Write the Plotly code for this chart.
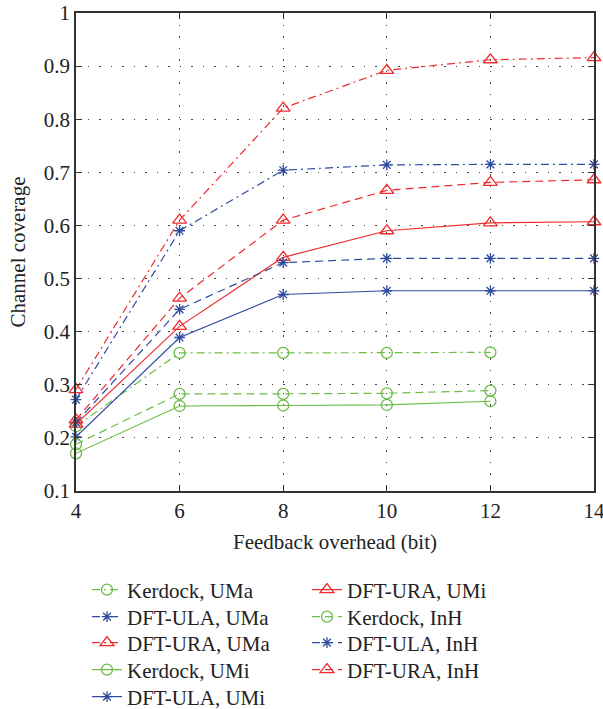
import plotly.graph_objects as go

x_full = [4, 6, 8, 10, 12, 14]
x_kerdock = [4, 6, 8, 10, 12]

kerdock_uma = [0.222, 0.360, 0.360, 0.360, 0.361]
dft_ula_uma = [0.272, 0.590, 0.704, 0.714, 0.715, 0.715]
dft_ura_uma = [0.291, 0.610, 0.821, 0.892, 0.912, 0.916]
kerdock_umi = [0.171, 0.260, 0.261, 0.262, 0.269]
dft_ula_umi = [0.202, 0.389, 0.470, 0.477, 0.477, 0.477]
dft_ura_umi = [0.226, 0.410, 0.540, 0.590, 0.605, 0.607]
kerdock_inh = [0.188, 0.283, 0.283, 0.284, 0.289]
dft_ula_inh = [0.229, 0.442, 0.530, 0.538, 0.538, 0.538]
dft_ura_inh = [0.234, 0.463, 0.610, 0.666, 0.681, 0.686]

x_ticks = [4, 6, 8, 10, 12, 14]
y_ticks = [0.1, 0.2, 0.3, 0.4, 0.5, 0.6, 0.7, 0.8, 0.9, 1]
y_tick_text = ["0.1", "0.2", "0.3", "0.4", "0.5", "0.6", "0.7", "0.8", "0.9", "1"]

RED = "#ef2b2d"
BLUE = "#2f4b9f"
GREEN = "#6cbd45"

series = [
    ("Kerdock, UMa", x_kerdock, kerdock_uma, GREEN, "dashdot", "circle-open"),
    ("DFT-ULA, UMa", x_full, dft_ula_uma, BLUE, "dashdot", "asterisk-open"),
    ("DFT-URA, UMa", x_full, dft_ura_uma, RED, "dashdot", "triangle-up-open"),
    ("Kerdock, UMi", x_kerdock, kerdock_umi, GREEN, "solid", "circle-open"),
    ("DFT-ULA, UMi", x_full, dft_ula_umi, BLUE, "solid", "asterisk-open"),
    ("DFT-URA, UMi", x_full, dft_ura_umi, RED, "solid", "triangle-up-open"),
    ("Kerdock, InH", x_kerdock, kerdock_inh, GREEN, "dash", "circle-open"),
    ("DFT-ULA, InH", x_full, dft_ula_inh, BLUE, "dash", "asterisk-open"),
    ("DFT-URA, InH", x_full, dft_ura_inh, RED, "dash", "triangle-up-open"),
]

dash_map = {"dashdot": "8px,4px,2px,4px", "dash": "8px,5px", "solid": "solid"}
size_map = {"circle-open": 11, "asterisk-open": 9, "triangle-up-open": 12}

fig = go.Figure()
for i, (name, xs, ys, col, dash, sym) in enumerate(series):
    leg = "legend" if i == 0 else f"legend{i + 1}"
    fig.add_trace(go.Scatter(
        x=xs, y=ys, name=name, mode="lines+markers",
        line=dict(color=col, width=1.2, dash=dash_map[dash]),
        marker=dict(symbol=sym, size=size_map[sym], color=col,
                    line=dict(color=col, width=1.3)),
        legend=leg, cliponaxis=False,
    ))

FONT = "Liberation Serif"
FS = 21
axis_common = dict(
    showline=True, linecolor="#333333", linewidth=1.5, mirror="ticks",
    ticks="inside", ticklen=6, tickcolor="#333333",
    showgrid=True, gridcolor="#444444", gridwidth=1, griddash="1.5px,10px",
    zeroline=False, automargin=False, ticklabeloverflow="allow",
    tickfont=dict(family=FONT, size=FS, color="#222222"),
)

fig.update_xaxes(range=[4, 14], tickvals=x_ticks, ticktext=[str(v) for v in x_ticks],
                 title=dict(text="Feedback overhead (bit)", font=dict(family=FONT, size=FS, color="#222222"), standoff=12),
                 **axis_common)
fig.update_yaxes(range=[0.1, 1.0], tickvals=y_ticks, ticktext=y_tick_text,
                 title=dict(text="Channel coverage", font=dict(family=FONT, size=FS, color="#222222"), standoff=12),
                 **axis_common)

# legend layout: two columns, column-major (5 + 4 rows)
plot_top, plot_bottom, plot_left, plot_w = 13, 491, 76, 518
row_centers = [590, 617, 643, 670, 697]
col_x = [87, 307]
legends = {}
for i in range(len(series)):
    col = 0 if i < 5 else 1
    row = i if i < 5 else i - 5
    key = "legend" if i == 0 else f"legend{i + 1}"
    legends[key] = dict(
        x=(col_x[col] - plot_left) / plot_w,
        y=(plot_bottom - row_centers[row]) / (plot_bottom - plot_top),
        xanchor="left", yanchor="middle",
        font=dict(family=FONT, size=FS, color="#222222"),
        bgcolor="rgba(0,0,0,0)", itemwidth=30,
    )

fig.update_layout(
    width=603, height=709,
    margin=dict(l=76, r=9, t=13, b=218, autoexpand=False),
    paper_bgcolor="white", plot_bgcolor="white",
    showlegend=True,
    **legends,
)

fig.write_html(
    "out.html",
    config={"displayModeBar": False},
    post_script="document.body.style.margin='0';document.body.style.overflow='hidden';",
)
